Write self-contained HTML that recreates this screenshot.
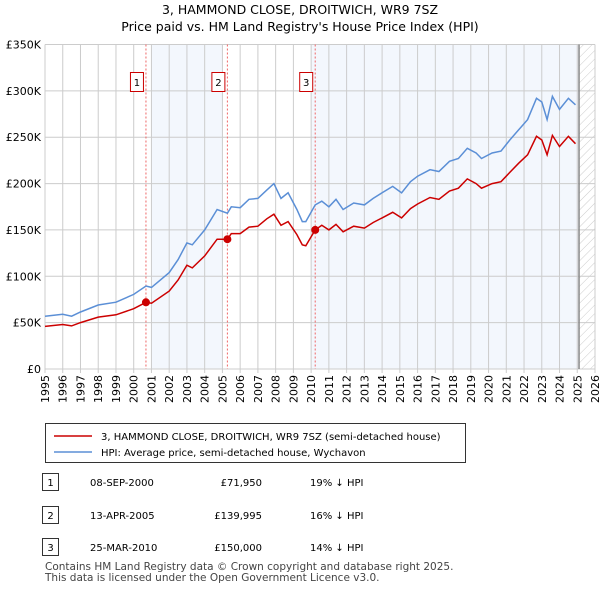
<!DOCTYPE html>
<html><head><meta charset="utf-8"><style>
body{margin:0;background:#fff;font-family:"Liberation Sans","DejaVu Sans",sans-serif;}
svg text{font-family:"DejaVu Sans","Liberation Sans",sans-serif;}
</style></head><body>
<svg width="600" height="590" viewBox="0 0 600 590">
<defs><pattern id="hatch" width="6" height="6" patternUnits="userSpaceOnUse" patternTransform="rotate(45)"><line x1="0" y1="0" x2="0" y2="6" stroke="#ccc" stroke-width="1"/></pattern></defs>
<text x="300" y="14" text-anchor="middle" font-size="12.5">3, HAMMOND CLOSE, DROITWICH, WR9 7SZ</text>
<text x="300" y="31" text-anchor="middle" font-size="12.5">Price paid vs. HM Land Registry's House Price Index (HPI)</text>
<g id="plot"></g>
<g>
<rect x="45.5" y="423.5" width="420" height="39" fill="#fff" stroke="#333"/>
<line x1="54" y1="436" x2="92" y2="436" stroke="#cc0000" stroke-width="1.5"/>
<text x="101" y="440" font-size="10">3, HAMMOND CLOSE, DROITWICH, WR9 7SZ (semi-detached house)</text>
<line x1="54" y1="452" x2="92" y2="452" stroke="#5b8fd6" stroke-width="1.5"/>
<text x="101" y="456" font-size="10">HPI: Average price, semi-detached house, Wychavon</text>
</g>
<g font-size="10">
<rect x="42.5" y="473.5" width="16" height="17" fill="#fff" stroke="#333"/><text x="50.5" y="486" text-anchor="middle">1</text>
<text x="90" y="486">08-SEP-2000</text><text x="262" y="486" text-anchor="end">£71,950</text><text x="310" y="486">19% ↓ HPI</text>
<rect x="42.5" y="506.5" width="16" height="17" fill="#fff" stroke="#333"/><text x="50.5" y="519" text-anchor="middle">2</text>
<text x="90" y="519">13-APR-2005</text><text x="262" y="519" text-anchor="end">£139,995</text><text x="310" y="519">16% ↓ HPI</text>
<rect x="42.5" y="538.5" width="16" height="17" fill="#fff" stroke="#333"/><text x="50.5" y="551" text-anchor="middle">3</text>
<text x="90" y="551">25-MAR-2010</text><text x="262" y="551" text-anchor="end">£150,000</text><text x="310" y="551">14% ↓ HPI</text>
</g>
<text x="45" y="570" font-size="10.5" fill="#444">Contains HM Land Registry data © Crown copyright and database right 2025.</text>
<text x="45" y="581" font-size="10.5" fill="#444">This data is licensed under the Open Government Licence v3.0.</text>
</svg>
<script>
const dates=[1995,1996,1996.5,1997,1998,1999,2000,2000.69,2001,2002,2002.5,2003,2003.3,2004,2004.7,2005.28,2005.5,2006,2006.5,2007,2007.5,2007.9,2008.3,2008.7,2009.2,2009.5,2009.7,2010.23,2010.6,2011,2011.4,2011.8,2012.4,2013,2013.5,2014,2014.6,2015.1,2015.6,2016,2016.7,2017.2,2017.8,2018.3,2018.8,2019.3,2019.6,2020.2,2020.7,2021.2,2021.7,2022.2,2022.7,2023,2023.3,2023.6,2024,2024.5,2024.9];
const hpiValues=[57,59,57,61.5,69,72,80.5,89.5,88,104,118,136,134,150,172,168,175,174,183,184,193,200,184,190,172,159,159,177,181,175,183,172,179,177,184,190,197,190,202,208,215,213,224,227,238,233,227,233,235,247,258,269,292,288,269,294,280,292,285];
const priceValues=[46,48,46.5,50,56,58.5,65,71.95,71,84,96,112,109,122,140,140,146,146,153,154,162,167,155,159,145,134,133,150,155,150,156,148,154,152,158,163,169,163,173,178,185,183,192,195,205,200,195,200,202,212,222,231,251,247,231,252,240,251,243];
const saleDates=[2000.69,2005.28,2010.23];
const saleValues=[71.95,139.995,150];
const saleLabels=["1","2","3"];
const yTicks=[0,50,100,150,200,250,300,350];
const yTickLabels=["£0","£50K","£100K","£150K","£200K","£250K","£300K","£350K"];
const xTicks=[1995,1996,1997,1998,1999,2000,2001,2002,2003,2004,2005,2006,2007,2008,2009,2010,2011,2012,2013,2014,2015,2016,2017,2018,2019,2020,2021,2022,2023,2024,2025,2026];
const shadedRanges=[[2001,2005],[2010,2025.1]];
const lastData=2025.1;

const X0=45,X1=595,Y0=369,Y1=44.5;
const xs=d=>X0+(d-1995)/(2026-1995)*(X1-X0);
const ys=v=>Y0-v/350*(Y0-Y1);
const NS="http://www.w3.org/2000/svg";
const g=document.getElementById('plot');
function mk(t,a,p){const e=document.createElementNS(NS,t);for(const k in a)e.setAttribute(k,a[k]);(p||g).appendChild(e);return e;}
shadedRanges.forEach(r=>{const e=mk('rect',{x:xs(r[0]),y:Y1,width:xs(r[1])-xs(r[0]),height:Y0-Y1,fill:'#eef3fc',opacity:0.7});

});
const h=mk('rect',{x:xs(lastData),y:Y1,width:X1-xs(lastData),height:Y0-Y1,fill:'url(#hatch)'});


yTicks.forEach((v,i)=>{mk('line',{x1:X0,x2:X1,y1:ys(v),y2:ys(v),stroke:'#ccc'});
const t=mk('text',{x:X0-4,y:ys(v)+4,'text-anchor':'end','font-size':'11'});t.textContent=yTickLabels[i];

});
xTicks.forEach(d=>{mk('line',{x1:xs(d),x2:xs(d),y1:Y1,y2:Y0+4,stroke:'#ccc'});
const t=mk('text',{x:0,y:0,'text-anchor':'end','font-size':'11',transform:`translate(${xs(d)+4},${Y0+6}) rotate(-90)`});t.textContent=d;

});
mk('line',{x1:xs(lastData),x2:xs(lastData),y1:Y1,y2:Y0,stroke:'#888','stroke-width':1.5});
saleDates.forEach((d,i)=>{mk('line',{x1:xs(d),x2:xs(d),y1:Y1,y2:Y0,stroke:'#e66','stroke-dasharray':'2,2'});
const r=mk('rect',{x:xs(d)-15.5,y:72.5,width:13,height:19,fill:'#fff',stroke:'#cc0000'});


const t=mk('text',{x:xs(d)-9,y:86,'text-anchor':'middle','font-size':'10'});t.textContent=saleLabels[i];});
function path(vals,col,name){const p=mk('path',{d:dates.map((d,i)=>(i?'L':'M')+xs(d).toFixed(1)+','+ys(vals[i]).toFixed(1)).join(''),fill:'none',stroke:col,'stroke-width':1.5});

}
path(hpiValues,'#5b8fd6','hpi-line');
path(priceValues,'#cc0000','price-paid-line');
saleDates.forEach((d,i)=>{const c=mk('circle',{cx:xs(d),cy:ys(saleValues[i]),r:4,fill:'#cc0000'});

});
</script>
</body></html>
